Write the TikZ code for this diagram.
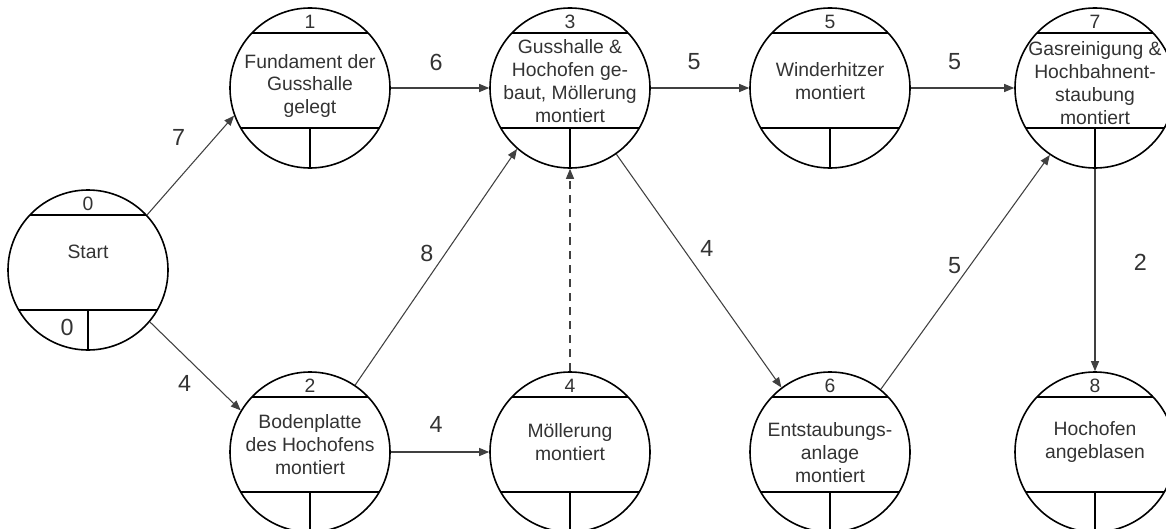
\documentclass[tikz,border=0pt]{standalone}
\usepackage{fontspec}
\setmainfont{Liberation Sans}
\usetikzlibrary{arrows.meta}
\definecolor{txtgray}{HTML}{333333}

\begin{document}
\begin{tikzpicture}[x=0.75pt, y=-0.75pt,
        event/.style={draw, circle, line width=1.2pt, minimum size=120pt, inner sep=0pt},
        body/.style={align=center, text=txtgray, font=\fontsize{14.5}{17.2}\selectfont, inner sep=0pt},
        num/.style={text=txtgray, font=\fontsize{14.5}{17}\selectfont, inner sep=0pt},
        dur/.style={text=txtgray, font=\fontsize{17.5}{20}\selectfont, inner sep=0pt},
        act/.style={draw=black!75, line width=0.8pt, -{Triangle[length=7.5pt,width=6pt]}}]

        \useasboundingbox (0,0) rectangle (1166,528);

        \foreach \i/\x/\y/\t/\txt in {
                0/88/270/-18/{Start},
                1/310/88/-2/{Fundament der\\Gusshalle\\gelegt},
                2/310/452/-7/{Bodenplatte\\des Hochofens\\montiert},
                3/570/88/-7/{Gusshalle \&\\Hochofen ge-\\baut, Möllerung\\montiert},
                4/570/452/-10/{Möllerung\\montiert},
                5/830/88/-7/{Winderhitzer\\montiert},
                6/830/452/1/{Entstaubungs-\\anlage\\montiert},
                7/1095/88/-5/{Gasreinigung \&\\Hochbahnent-\\staubung\\montiert},
                8/1095/452/-10/{Hochofen\\angeblasen}}
            {
                \node[name=n\i, event] at (\x, \y) {};
                \draw[line width=1.2pt] (\x-58, \y-55) -- (\x+58, \y-55);
                \draw[line width=1.2pt] (\x-69, \y+40) -- (\x+69, \y+40);
                \draw[line width=1.2pt] (\x, \y+40) -- (\x, \y+80);
                \node[name=h\i, num] at (\x, \y-66) {\i};
                \node[name=t\i, body] at (\x, \y+\t) {\txt};
            }
        \node[name=e0, dur] at (67, 327) {0};

        \draw[act] (n0.43) -- node[dur, xshift=-9pt, yshift=21pt] {7} (n1.200);
        \draw[act] (n0.320) -- node[dur, xshift=-8pt, yshift=-13pt] {4} (n2.149);
        \draw[act] (n1.east) -- node[dur, xshift=-3pt, yshift=19.5pt] {6} (n3.west);
        \draw[act] (n2.56) -- node[dur, xshift=-7pt, yshift=10.5pt] {8} (n3.229);
        \draw[act] (n2.east) -- node[dur, xshift=-3pt, yshift=21pt] {4} (n4.west);
        \draw[act, dash pattern=on 6pt off 4.5pt] (n4.north) -- (n3.south);
        \draw[act] (n3.east) -- node[dur, xshift=-4.5pt, yshift=19.5pt] {5} (n5.west);
        \draw[act] (n3.305) -- node[dur, xshift=6pt, yshift=17pt] {4} (n6.127);
        \draw[act] (n5.east) -- node[dur, xshift=-6pt, yshift=19.5pt] {5} (n7.west);
        \draw[act] (n6.51) -- node[dur, xshift=-8pt, yshift=5pt] {5} (n7.236);
        \draw[act] (n7.south) -- node[dur, xshift=34pt, yshift=6pt] {2} (n8.north);
    \end{tikzpicture}
\end{document}
